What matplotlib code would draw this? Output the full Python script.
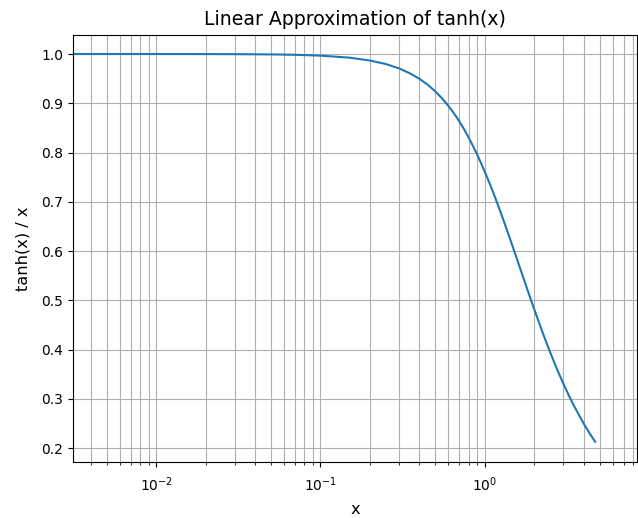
import matplotlib
matplotlib.use("Agg")
import matplotlib.pyplot as plt

x_vals = [0.003, 0.005, 0.01, 0.02, 0.03, 0.05, 0.07, 0.1, 0.15, 0.2, 0.25, 0.3, 0.35, 0.4, 0.45, 0.5,
          0.55, 0.6, 0.65, 0.7, 0.75, 0.8, 0.9, 1.0, 1.1, 1.2, 1.3, 1.4, 1.5, 1.7, 1.85, 2.0, 2.25,
          2.5, 2.75, 3.0, 3.25, 3.5, 4.0, 4.35, 4.7]
y_vals = [1.0, 1.0, 1.0, 0.9999, 0.9997, 0.9992, 0.9984, 0.9967, 0.9926, 0.9868, 0.9797, 0.9710, 0.9609, 0.9498, 0.9376, 0.9242,
          0.9100, 0.8950, 0.8795, 0.8634, 0.8469, 0.8300, 0.7959, 0.7616, 0.7277, 0.6947, 0.6629, 0.6324, 0.6034, 0.5502, 0.5144, 0.4820, 0.4347,
          0.3946, 0.3607, 0.3317, 0.3068, 0.2852, 0.2498, 0.2298, 0.2127]

fig = plt.figure(figsize=(6.38, 5.18), dpi=100)
ax = fig.add_axes([73/638, (518-462)/518, (637-73)/638, (462-35)/518])
ax.plot(x_vals, y_vals, color="#1f77b4", linewidth=1.5)
ax.set_xscale("log")
ax.set_xlim(0.00312, 8.45)
ax.set_ylim(0.1716, 1.0386)
ax.grid(True, which="both")
ax.tick_params(axis="x", which="major", pad=6)
ax.set_title("Linear Approximation of tanh(x)", fontsize=13.6, pad=7)
ax.set_xlabel("x", fontsize=11.7, labelpad=6)
ax.set_ylabel("tanh(x) / x", fontsize=11.7, labelpad=8)
fig.savefig("out.png", dpi=100)
